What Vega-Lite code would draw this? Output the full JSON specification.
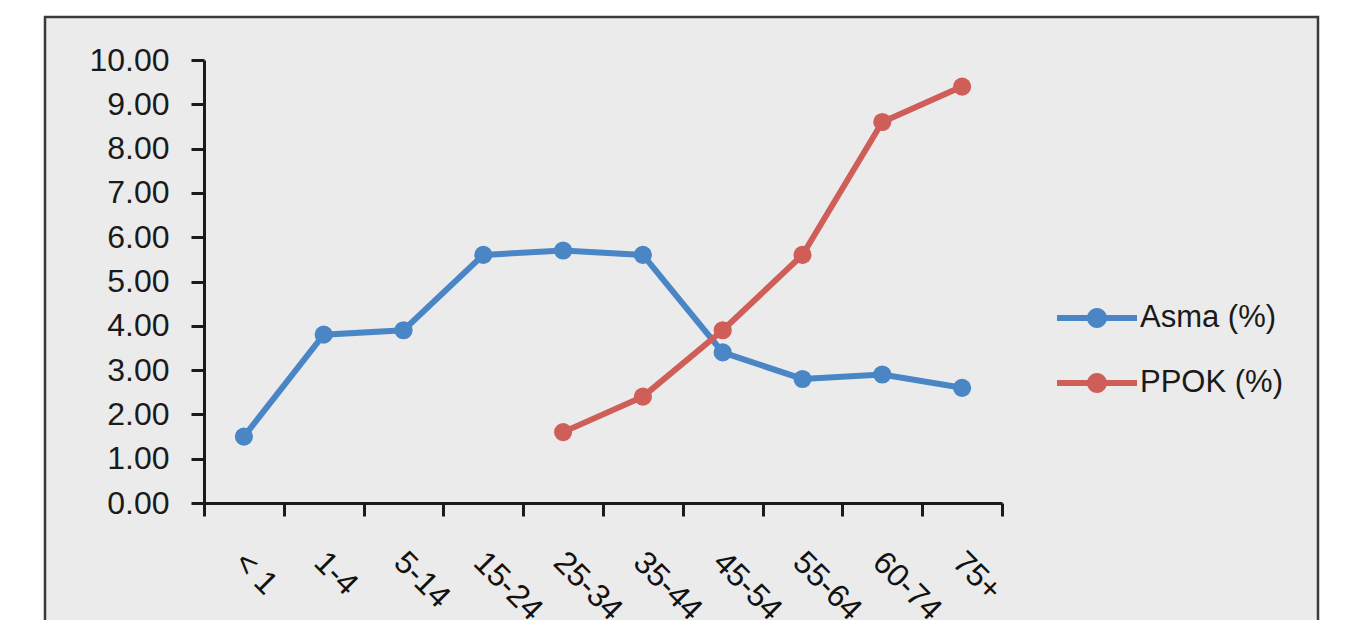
{
  "$schema": "https://vega.github.io/schema/vega-lite/v6.json",
  "autosize": "none",
  "padding": {"left": 45, "top": 17, "right": 48, "bottom": 0},
  "width": 1273,
  "height": 610,
  "background": "white",
  "config": {
    "view": {"fill": "#ebebeb", "stroke": "#3a3a3a", "strokeWidth": 2.5},
    "font": "Liberation Sans",
    "axis": {
      "labelFont": "Liberation Sans",
      "labelFontSize": 32,
      "labelColor": "#1a1a1a",
      "domainColor": "#1a1a1a",
      "domainWidth": 3,
      "tickColor": "#1a1a1a",
      "tickWidth": 3,
      "tickSize": 13,
      "grid": false,
      "title": null
    }
  },
  "data": {
    "values": [
      {"age": "< 1", "series": "Asma (%)", "value": 1.5},
      {"age": "1-4", "series": "Asma (%)", "value": 3.8},
      {"age": "5-14", "series": "Asma (%)", "value": 3.9},
      {"age": "15-24", "series": "Asma (%)", "value": 5.6},
      {"age": "25-34", "series": "Asma (%)", "value": 5.7},
      {"age": "35-44", "series": "Asma (%)", "value": 5.6},
      {"age": "45-54", "series": "Asma (%)", "value": 3.4},
      {"age": "55-64", "series": "Asma (%)", "value": 2.8},
      {"age": "60-74", "series": "Asma (%)", "value": 2.9},
      {"age": "75+", "series": "Asma (%)", "value": 2.6},
      {"age": "25-34", "series": "PPOK (%)", "value": 1.6},
      {"age": "35-44", "series": "PPOK (%)", "value": 2.4},
      {"age": "45-54", "series": "PPOK (%)", "value": 3.9},
      {"age": "55-64", "series": "PPOK (%)", "value": 5.6},
      {"age": "60-74", "series": "PPOK (%)", "value": 8.6},
      {"age": "75+", "series": "PPOK (%)", "value": 9.4}
    ]
  },
  "mark": {"type": "line", "strokeWidth": 6, "point": {"filled": true, "size": 330}},
  "encoding": {
    "x": {
      "field": "age",
      "type": "nominal",
      "sort": ["< 1", "1-4", "5-14", "15-24", "25-34", "35-44", "45-54", "55-64", "60-74", "75+"],
      "scale": {"type": "band", "paddingInner": 0, "paddingOuter": 0, "range": [159, 957]},
      "axis": {
        "offset": -124,
        "tickBand": "extent",
        "labelAngle": 45,
        "labelAlign": "left",
        "labelBaseline": "top",
        "labelPadding": 30,
        "labelOffset": 6,
        "labelColor": "#111111",
        "labelFontSize": 32
      }
    },
    "y": {
      "field": "value",
      "type": "quantitative",
      "scale": {"domain": [0, 10], "range": [486, 43], "nice": false},
      "axis": {
        "offset": -159,
        "values": [0, 1, 2, 3, 4, 5, 6, 7, 8, 9, 10],
        "format": ".2f",
        "labelPadding": 22
      }
    },
    "color": {
      "field": "series",
      "type": "nominal",
      "scale": {"domain": ["Asma (%)", "PPOK (%)"], "range": ["#4a85c6", "#cf5d58"]},
      "legend": {
        "title": null,
        "orient": "none",
        "legendX": 1012,
        "legendY": 261,
        "symbolType": "M-1,-0.075H1V0.075H-1Z M0.25,0A0.25,0.25 0 1 1 -0.25,0A0.25,0.25 0 1 1 0.25,0Z",
        "symbolSize": 6400,
        "symbolStrokeWidth": 0,
        "labelFont": "Liberation Sans",
        "labelFontSize": 31,
        "labelColor": "#1a1a1a",
        "labelOffset": 3,
        "rowPadding": 10,
        "encode": {
          "symbols": {"update": {"fill": {"scale": "color", "field": "value"}, "opacity": {"value": 1}}}
        }
      }
    }
  }
}
